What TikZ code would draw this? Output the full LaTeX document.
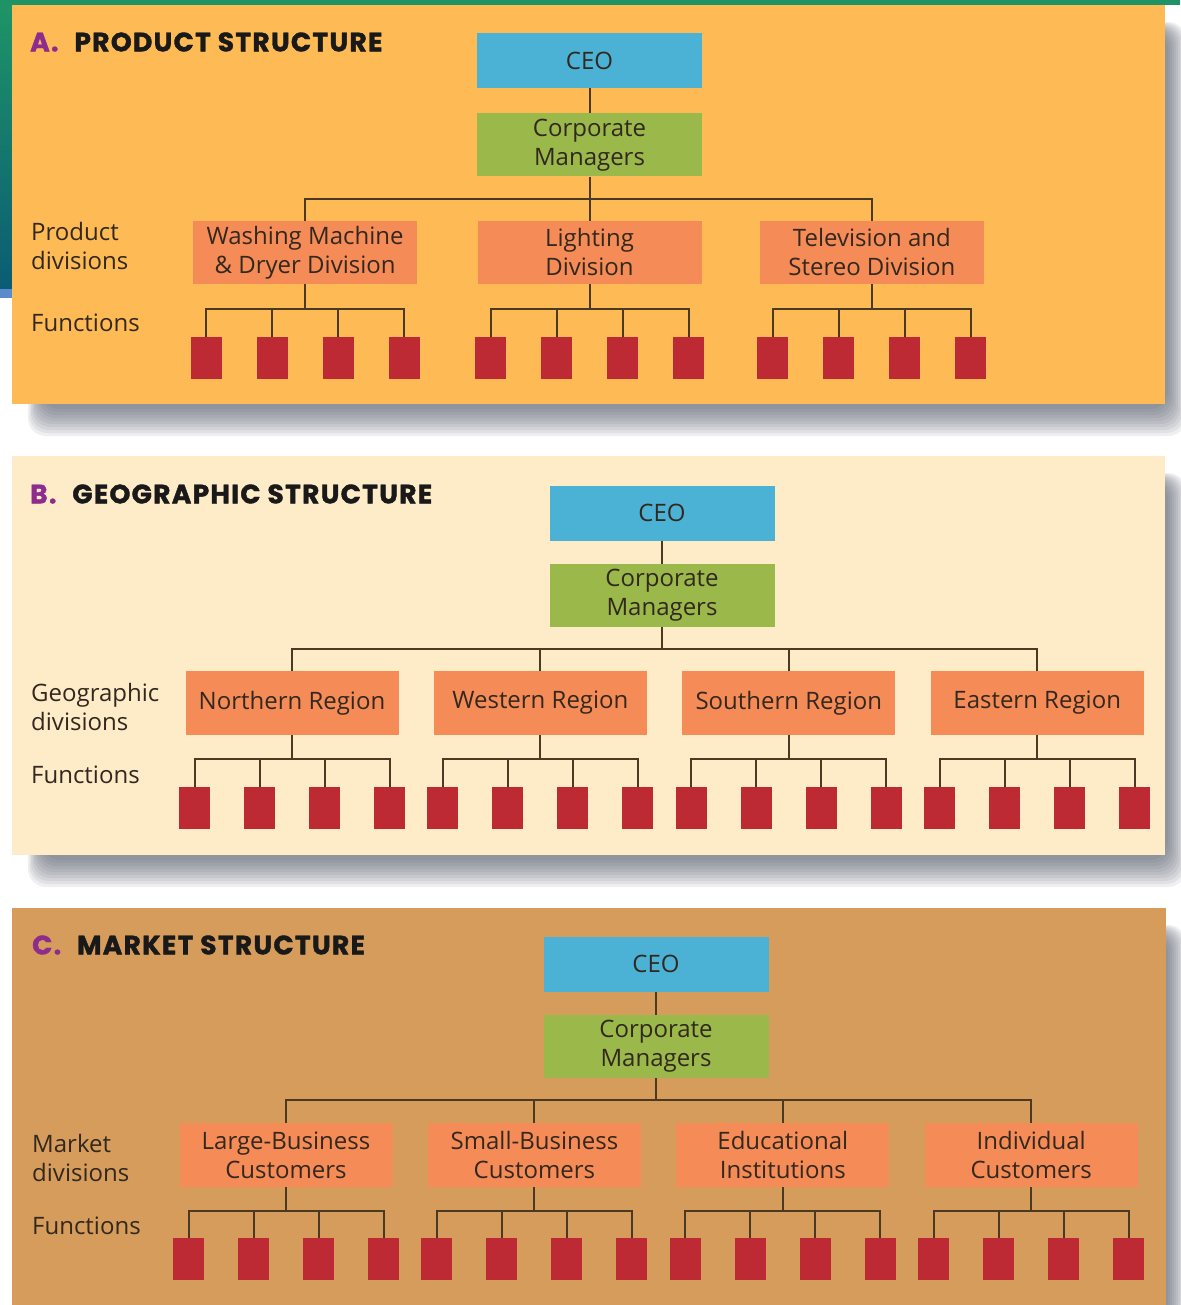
\documentclass[tikz,border=0pt]{standalone}
\usepackage{fontspec}
\setmainfont{Open Sans}
\newfontfamily\headfont{Poppins}[BoldFeatures={FakeBold=1.5}, LetterSpace=5]
\usetikzlibrary{positioning, calc}

\definecolor{bgorange}{HTML}{FDBA55}
\definecolor{bgcream}{HTML}{FEEBC8}
\definecolor{bgtan}{HTML}{D69C5C}
\definecolor{ceoblue}{HTML}{4BB2D6}
\definecolor{corpgreen}{HTML}{9BB84B}
\definecolor{divsalmon}{HTML}{F58C57}
\definecolor{funcred}{HTML}{BE2A33}
\definecolor{linebrown}{HTML}{4A3A24}
\definecolor{ink}{HTML}{33281E}
\definecolor{letterpurple}{HTML}{8E2C8E}
\definecolor{slidegreen}{HTML}{1E9466}
\definecolor{slideteal}{HTML}{0B5C74}
\definecolor{slideblue}{HTML}{5A8BCB}
\definecolor{shadowgray}{HTML}{4A5060}

\tikzset{
    orgbox/.style={
        rectangle, inner sep=0pt, align=center, text=ink,
        font=\fontsize{24}{29}\selectfont
    },
    ceobox/.style={orgbox, fill=ceoblue, minimum width=225pt, minimum height=55pt},
    corpbox/.style={orgbox, fill=corpgreen, minimum width=225pt, minimum height=63pt},
    divbox/.style={orgbox, fill=divsalmon, minimum width=213pt, minimum height=64pt},
    divwide/.style={divbox, minimum width=224pt, minimum height=63pt},
    funcbox/.style={
        rectangle, fill=funcred, inner sep=0pt,
        minimum width=31pt, minimum height=42pt
    },
    tie/.style={draw=linebrown, line width=2pt},
    rowlabel/.style={
        anchor=west, align=left, inner sep=0pt, text=ink,
        font=\fontsize{24}{29}\selectfont
    },
    paneltitle/.style={
        anchor=west, inner sep=0pt, text=black!90,
        font=\headfont\bfseries\fontsize{26.5}{26.5}\selectfont
    },
    panelshadow/.style={fill=shadowgray, opacity=0.09, rounded corners=18pt},
}

\begin{document}
\begin{tikzpicture}[x=1pt, y=-1pt]
\useasboundingbox (0,0) rectangle (1180,1305);

% ---- slide background ----
\fill[slidegreen] (0,0) rectangle (1180,5);
\shade[top color=slidegreen, bottom color=slideteal] (0,5) rectangle (12,289);
\fill[slideblue] (0,289) rectangle (12,298);

% ---- panel shadows and panels ----
\foreach \s in {0,...,9}{
    \fill[panelshadow] (28+1.5*\s,22+\s) rectangle (1186-2*\s,436-3*\s);
    \fill[panelshadow] (28+1.5*\s,473+\s) rectangle (1186-2*\s,887-3*\s);
    \fill[panelshadow] (28+1.5*\s,925+\s) rectangle (1186-2*\s,1320);
}
\fill[bgorange] (12,5) rectangle (1165,404);
\fill[bgcream] (12,456) rectangle (1165,855);
\fill[bgtan] (12,908) rectangle (1166,1310);

% ---- Panel A: product structure ----
\node[paneltitle] (a-title) at (30,42)
    {\textcolor{letterpurple}{A.}\hspace{0.6em}PRODUCT STRUCTURE};
\node[ceobox] (a-ceo) at (589.5,60.5) {CEO};
\node[corpbox, below=25pt of a-ceo] (a-corp) {Corporate\\Managers};
\node[divwide, below=44pt of a-corp] (a-light) {Lighting\\Division};
\node[divwide, left=60pt of a-light] (a-wash) {Washing Machine\\\& Dryer Division};
\node[divwide, right=58pt of a-light] (a-tv) {Television and\\Stereo Division};
\node[rowlabel] (a-rowdiv) at (31,246) {Product\\divisions};
\node[rowlabel] (a-rowfun) at (31,323) {Functions};
\coordinate (a-tie) at ($(a-corp.south)+(0,22)$);
\draw[tie] (a-ceo.south) -- (a-corp.north);
\draw[tie] (a-corp.south) -- (a-light.north);
\draw[tie] (a-wash.north) |- (a-tie) -| (a-tv.north);
\foreach \d in {a-wash, a-light, a-tv}{
    \coordinate (\d-bus) at ($(\d.south)+(0,25)$);
    \foreach \dx [count=\i] in {-99,-33,33,99}
        \node[funcbox, anchor=north] (\d-f\i) at ($(\d.south)+(\dx,53)$) {};
    \draw[tie] (\d.south) -- (\d-bus);
    \draw[tie] (\d-f1.north) |- (\d-bus) -| (\d-f4.north);
    \draw[tie] (\d-f2.north) -- (\d-f2.north |- \d-bus);
    \draw[tie] (\d-f3.north) -- (\d-f3.north |- \d-bus);
}

% ---- Panel B: geographic structure ----
\node[paneltitle] (b-title) at (30,494)
    {\textcolor{letterpurple}{B.}\hspace{0.6em}GEOGRAPHIC STRUCTURE};
\node[ceobox] (b-ceo) at (662,513) {CEO};
\node[corpbox, below=23pt of b-ceo] (b-corp) {Corporate\\Managers};
\node[divbox] (b-north) at (292,703) {Northern Region};
\node[divbox, right=35pt of b-north] (b-west) {Western Region};
\node[divbox, right=35pt of b-west] (b-south) {Southern Region};
\node[divbox, right=35pt of b-south] (b-east) {Eastern Region};
\node[rowlabel] (b-rowdiv) at (31,707) {Geographic\\divisions};
\node[rowlabel] (b-rowfun) at (31,775) {Functions};
\coordinate (b-tie) at ($(b-corp.south)+(0,22)$);
\draw[tie] (b-ceo.south) -- (b-corp.north);
\draw[tie] (b-corp.south) -- (b-tie);
\draw[tie] (b-north.north) |- (b-tie) -| (b-east.north);
\draw[tie] (b-west.north) -- (b-west.north |- b-tie);
\draw[tie] (b-south.north) -- (b-south.north |- b-tie);
\foreach \d in {b-north, b-west, b-south, b-east}{
    \coordinate (\d-bus) at ($(\d.south)+(0,24)$);
    \foreach \dx [count=\i] in {-97.5,-32.5,32.5,97.5}
        \node[funcbox, anchor=north] (\d-f\i) at ($(\d.south)+(\dx,52)$) {};
    \draw[tie] (\d.south) -- (\d-bus);
    \draw[tie] (\d-f1.north) |- (\d-bus) -| (\d-f4.north);
    \draw[tie] (\d-f2.north) -- (\d-f2.north |- \d-bus);
    \draw[tie] (\d-f3.north) -- (\d-f3.north |- \d-bus);
}

% ---- Panel C: market structure ----
\node[paneltitle] (c-title) at (32,945)
    {\textcolor{letterpurple}{C.}\hspace{0.6em}MARKET STRUCTURE};
\node[ceobox] (c-ceo) at (656,964) {CEO};
\node[corpbox, below=23pt of c-ceo] (c-corp) {Corporate\\Managers};
\node[divbox] (c-large) at (286,1155) {Large-Business\\Customers};
\node[divbox, right=35pt of c-large] (c-small) {Small-Business\\Customers};
\node[divbox, right=35pt of c-small] (c-edu) {Educational\\Institutions};
\node[divbox, right=35pt of c-edu] (c-indiv) {Individual\\Customers};
\node[rowlabel] (c-rowdiv) at (32,1158) {Market\\divisions};
\node[rowlabel] (c-rowfun) at (32,1226) {Functions};
\coordinate (c-tie) at ($(c-corp.south)+(0,22)$);
\draw[tie] (c-ceo.south) -- (c-corp.north);
\draw[tie] (c-corp.south) -- (c-tie);
\draw[tie] (c-large.north) |- (c-tie) -| (c-indiv.north);
\draw[tie] (c-small.north) -- (c-small.north |- c-tie);
\draw[tie] (c-edu.north) -- (c-edu.north |- c-tie);
\foreach \d in {c-large, c-small, c-edu, c-indiv}{
    \coordinate (\d-bus) at ($(\d.south)+(0,24)$);
    \foreach \dx [count=\i] in {-97.5,-32.5,32.5,97.5}
        \node[funcbox, anchor=north] (\d-f\i) at ($(\d.south)+(\dx,51)$) {};
    \draw[tie] (\d.south) -- (\d-bus);
    \draw[tie] (\d-f1.north) |- (\d-bus) -| (\d-f4.north);
    \draw[tie] (\d-f2.north) -- (\d-f2.north |- \d-bus);
    \draw[tie] (\d-f3.north) -- (\d-f3.north |- \d-bus);
}

\end{tikzpicture}
\end{document}
